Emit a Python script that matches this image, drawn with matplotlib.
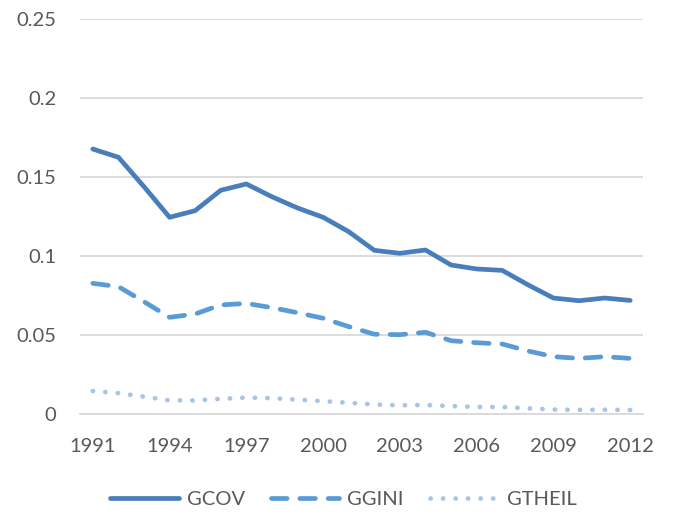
import matplotlib
matplotlib.use("Agg")
import matplotlib.pyplot as plt

years = list(range(1991, 2013))
gcov = [0.1677, 0.1625, 0.1439, 0.1245, 0.1287, 0.1416, 0.1456, 0.1375, 0.1304, 0.1245,
        0.1154, 0.1036, 0.1017, 0.1038, 0.0943, 0.0918, 0.0909, 0.0818, 0.0734, 0.0717,
        0.0734, 0.0719]
ggini = [0.0827, 0.0806, 0.0711, 0.0612, 0.0633, 0.0690, 0.0700, 0.0673, 0.0641, 0.0606,
         0.0553, 0.0505, 0.0502, 0.0517, 0.0464, 0.0451, 0.0443, 0.0399, 0.0363, 0.0352,
         0.0363, 0.0352]
gtheil = [0.0145, 0.0132, 0.0110, 0.0086, 0.0086, 0.0096, 0.0104, 0.0100, 0.0091, 0.0081,
          0.0071, 0.0060, 0.0055, 0.0057, 0.0050, 0.0045, 0.0044, 0.0036, 0.0028, 0.0026,
          0.0027, 0.0025]
xtick_years = [1991, 1994, 1997, 2000, 2003, 2006, 2009, 2012]
ytick_vals = [0, 0.05, 0.1, 0.15, 0.2, 0.25]
ytick_labels = ["0", "0.05", "0.1", "0.15", "0.2", "0.25"]
series_names = ["GCOV", "GGINI", "GTHEIL"]

plt.rcParams['font.family'] = ['Lato', 'DejaVu Sans']

fig = plt.figure(figsize=(6.73, 5.23), dpi=100)
ax = fig.add_axes([80/673, 109/523, 563/673, 395/523])

lw = 3.4
c1, c2, c3 = "#4a7ebb", "#5b9bd5", "#a8c4e8"
ax.plot(years, gcov, color=c1, lw=lw, solid_capstyle='round', solid_joinstyle='round', label=series_names[0])
ax.plot(years, ggini, color=c2, lw=lw, dashes=(3.3, 2.7), dash_capstyle='round', dash_joinstyle='round', label=series_names[1])
ax.plot(years, gtheil, color=c3, lw=lw, dashes=(0.05, 2.6), dash_capstyle='round', label=series_names[2])

ax.set_xlim(1990.5, 2012.5)
ax.set_ylim(0, 0.25)
ax.set_yticks(ytick_vals)
ax.set_yticklabels(ytick_labels)
ax.set_xticks(xtick_years)
ax.set_xticklabels([str(y) for y in xtick_years])

ax.yaxis.grid(True, color="#d9d9d9", lw=1.3)
ax.set_axisbelow(True)
for s in ["top", "right", "left"]:
    ax.spines[s].set_visible(False)
ax.spines["bottom"].set_color("#d9d9d9")
ax.spines["bottom"].set_linewidth(1.3)
ax.tick_params(axis='both', length=0, labelsize=14.5, labelcolor="#595959")
ax.tick_params(axis='y', pad=17)
ax.tick_params(axis='x', pad=17)

leg = fig.legend(loc='center', bbox_to_anchor=(0.51, 1 - 499/523), ncol=3, frameon=False,
                 fontsize=14.5, handlelength=3.4, handletextpad=0.4, columnspacing=1.3)
for t in leg.get_texts():
    t.set_color("#595959")

fig.savefig("out.png", dpi=100, facecolor="white")
